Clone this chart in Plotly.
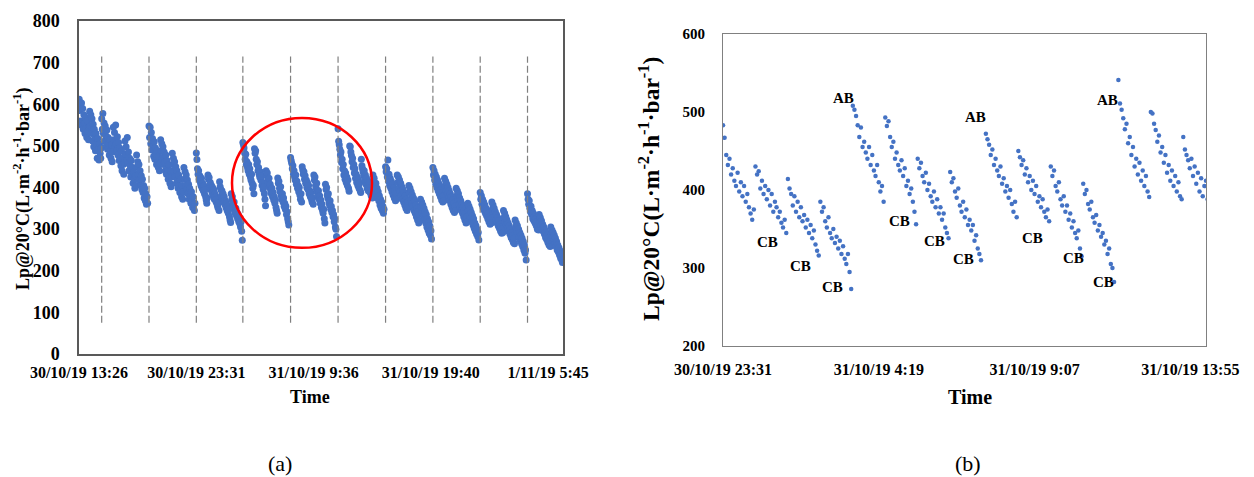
import pandas as pd
import plotly.graph_objects as go

# ---------------- data ----------------
# start time of each filtration segment (first = start of record, others = air backwash AB)
segment_starts = [
    "2019-10-30 13:27", "2019-10-30 15:23", "2019-10-30 19:27", "2019-10-30 23:31",
    "2019-10-31 03:31", "2019-10-31 07:37", "2019-10-31 11:42", "2019-10-31 15:47",
    "2019-10-31 19:51", "2019-10-31 23:55", "2019-11-01 03:59",
]
sample_minutes = 3  # logging interval

lp_seg0 = [612, 585, 598, 560, 603, 548, 590, 540, 575, 555, 530, 568, 542, 520, 560, 535, 515, 545,
           583, 548, 575, 530, 565, 512, 552, 498, 540, 520, 488, 530, 505, 470, 518, 492, 466, 505, 482, 470, 495]
lp_seg1 = [565, 540, 578, 530, 555, 512, 548, 525, 500, 538, 492, 520, 505, 478, 515, 488, 470, 502, 462, 485,
           545, 515, 532, 498, 550, 505, 488, 522, 478, 508, 465, 495, 470, 452, 488, 440, 472, 455, 432, 460,
           512, 480, 498, 465, 520, 458, 485, 440, 470, 452, 425, 465, 432, 448, 410, 438, 420, 398, 428, 405,
           478, 450, 462, 430, 455, 418, 440, 405, 428, 395, 420, 388, 405, 375, 398, 368, 385, 360, 378, 362]
lp_seg2 = [548, 520, 545, 505, 532, 490, 518, 500, 475, 510, 468, 495, 480, 455, 488, 462, 448, 475, 440, 458,
           515, 488, 505, 470, 498, 455, 485, 462, 440, 478, 432, 465, 445, 420, 455, 428, 410, 440, 402, 425,
           482, 455, 470, 438, 462, 425, 450, 410, 440, 418, 398, 430, 405, 388, 420, 395, 378, 405, 372, 390,
           448, 420, 438, 405, 430, 395, 418, 385, 408, 372, 398, 380, 362, 390, 368, 352, 378, 360, 345, 362]
lp_seg3 = [483, 467, 445, 432, 440, 420, 428, 412, 405, 422, 398, 410, 392, 405, 385, 395, 378, 370, 362, 375,
           430, 420, 424, 402, 412, 395, 405, 388, 400, 380, 395, 372, 385, 378, 365, 372, 358, 352, 362, 345,
           414, 402, 395, 380, 392, 372, 385, 365, 378, 360, 368, 352, 362, 345, 355, 338, 348, 330, 322, 316,
           385, 372, 378, 360, 352, 365, 345, 338, 350, 332, 340, 325, 335, 318, 328, 312, 305, 318, 295, 273]
lp_seg4 = [508, 503, 495, 483, 468, 480, 455, 462, 448, 440, 455, 432, 445, 425, 418, 432, 410, 398, 405, 385,
           493, 482, 488, 468, 455, 462, 440, 448, 432, 425, 438, 418, 428, 405, 412, 395, 402, 385, 372, 356,
           440, 428, 435, 418, 410, 422, 400, 408, 392, 385, 398, 378, 388, 370, 378, 362, 370, 352, 345, 338,
           423, 410, 415, 398, 390, 402, 380, 372, 385, 365, 375, 355, 362, 348, 355, 335, 342, 325, 318, 310]
lp_seg5 = [472, 465, 458, 445, 452, 432, 440, 425, 418, 430, 408, 415, 398, 405, 390, 400, 382, 372, 385, 365,
           450, 442, 432, 438, 420, 428, 410, 418, 400, 412, 395, 405, 385, 392, 378, 388, 372, 365, 375, 360,
           430, 418, 425, 405, 398, 410, 388, 380, 392, 372, 380, 362, 370, 352, 360, 345, 338, 348, 325, 315,
           408, 395, 400, 382, 375, 385, 365, 358, 368, 348, 355, 340, 345, 330, 335, 318, 325, 305, 300, 282]
lp_seg6 = [541, 511, 503, 492, 478, 485, 460, 468, 445, 455, 430, 440, 420, 435, 412, 425, 405, 418, 398, 391,
           500, 498, 485, 477, 462, 470, 448, 455, 435, 445, 422, 432, 412, 425, 405, 418, 398, 410, 392, 388,
           468, 452, 445, 438, 428, 440, 418, 430, 408, 422, 398, 415, 392, 405, 412, 388, 400, 380, 392, 375,
           430, 418, 422, 405, 395, 410, 385, 398, 375, 390, 368, 380, 358, 372, 350, 365, 345, 355, 338, 348]
lp_seg7 = [450, 438, 445, 425, 466, 415, 432, 405, 422, 398, 415, 390, 408, 382, 400, 375, 392, 368, 385, 372,
           430, 412, 425, 398, 418, 390, 410, 382, 402, 372, 395, 365, 388, 358, 380, 350, 372, 345, 365, 352,
           405, 388, 398, 372, 390, 362, 382, 355, 375, 345, 368, 338, 358, 330, 350, 322, 342, 315, 335, 320,
           372, 355, 365, 340, 358, 332, 350, 322, 342, 315, 335, 305, 325, 298, 318, 290, 308, 285, 296, 276]
lp_seg8 = [448, 430, 440, 418, 432, 408, 425, 400, 418, 392, 410, 385, 402, 378, 395, 370, 388, 365, 380, 368,
           422, 405, 415, 392, 408, 385, 400, 375, 392, 368, 385, 360, 378, 352, 370, 345, 362, 340, 355, 345,
           398, 380, 392, 368, 385, 360, 375, 352, 368, 345, 360, 338, 352, 330, 345, 322, 338, 315, 330, 318,
           362, 345, 355, 335, 348, 328, 340, 318, 332, 310, 325, 302, 315, 295, 308, 288, 300, 282, 292, 274]
lp_seg9 = [388, 372, 380, 360, 372, 352, 365, 345, 358, 338, 350, 332, 345, 325, 338, 318, 330, 312, 325, 315,
           365, 348, 358, 338, 350, 330, 342, 322, 335, 315, 328, 308, 320, 302, 312, 295, 305, 290, 300, 292,
           345, 328, 338, 318, 330, 310, 322, 302, 315, 295, 308, 288, 300, 280, 292, 275, 285, 268, 278, 265,
           322, 305, 315, 295, 308, 288, 300, 280, 292, 272, 285, 265, 278, 258, 270, 250, 262, 242, 250, 226]
lp_seg10 = [385, 372, 360, 368, 350, 342, 355, 335, 345, 325, 338, 320, 330, 315, 325, 308, 318, 300, 310, 298,
            335, 318, 328, 308, 320, 300, 312, 295, 305, 288, 298, 280, 292, 275, 285, 268, 278, 262, 272, 258,
            305, 288, 298, 280, 292, 272, 285, 265, 278, 258, 270, 250, 262, 245, 255, 238, 248, 230, 240, 225, 220]
lp_segments = [lp_seg0, lp_seg1, lp_seg2, lp_seg3, lp_seg4, lp_seg5, lp_seg6,
               lp_seg7, lp_seg8, lp_seg9, lp_seg10]

ab_times = segment_starts[1:]

left_tick_vals = ["2019-10-30 13:26", "2019-10-30 23:31", "2019-10-31 09:36",
                  "2019-10-31 19:40", "2019-11-01 05:45"]
left_tick_text = ["30/10/19 13:26", "30/10/19 23:31", "31/10/19 9:36",
                  "31/10/19 19:40", "1/11/19 5:45"]
right_tick_vals = ["2019-10-30 23:31", "2019-10-31 04:19", "2019-10-31 09:07", "2019-10-31 13:55"]
right_tick_text = ["30/10/19 23:31", "31/10/19 4:19", "31/10/19 9:07", "31/10/19 13:55"]

left_range = ["2019-10-30 13:26", "2019-11-01 07:02"]
right_range = ["2019-10-30 23:31", "2019-10-31 14:24"]

# event labels in panel (b): (text, time, Lp)
event_labels = [
    ("AB", "2019-10-31 03:13", 518), ("AB", "2019-10-31 07:18", 494), ("AB", "2019-10-31 11:22", 515),
    ("CB", "2019-10-31 00:54", 333), ("CB", "2019-10-31 01:55", 303), ("CB", "2019-10-31 02:54", 276),
    ("CB", "2019-10-31 04:58", 360), ("CB", "2019-10-31 06:02", 335), ("CB", "2019-10-31 06:56", 312),
    ("CB", "2019-10-31 09:03", 338), ("CB", "2019-10-31 10:19", 313), ("CB", "2019-10-31 11:14", 282),
]

# ---------------- build series ----------------
times, values = [], []
for start, vals in zip(segment_starts, lp_segments):
    t0 = pd.Timestamp(start)
    for i, v in enumerate(vals):
        times.append(t0 + pd.Timedelta(minutes=sample_minutes * i))
        values.append(v)

BLUE = "#4472C4"
FONT = "Liberation Serif"
ytitle = "Lp@20°C(L·m<sup>-2</sup>·h<sup>-1</sup>·bar<sup>-1</sup>)"

fig = go.Figure()
fig.add_trace(go.Scatter(x=times, y=values, mode="markers", xaxis="x", yaxis="y",
                         marker=dict(color=BLUE, size=7), showlegend=False))
fig.add_trace(go.Scatter(x=times, y=values, mode="markers", xaxis="x2", yaxis="y2",
                         marker=dict(color=BLUE, size=4.5), showlegend=False))

shapes = []
for t in ab_times:
    shapes.append(dict(type="line", xref="x", yref="y", x0=t, x1=t, y0=75, y1=715,
                       line=dict(color="#808080", width=1.2, dash="7px,3px"), layer="above"))
shapes.append(dict(type="circle", xref="x", yref="y",
                   x0="2019-10-31 02:35", x1="2019-10-31 14:37", y0=255, y1=567,
                   line=dict(color="#FF0000", width=2.5)))

annotations = []
for txt, t, v in event_labels:
    annotations.append(dict(x=t, y=v, xref="x2", yref="y2", text=f"<b>{txt}</b>", showarrow=False,
                            xanchor="center", yanchor="middle",
                            font=dict(family=FONT, size=15, color="black")))


def paper_text(x, y, text, size, angle=0):
    return dict(x=x, y=y, xref="paper", yref="paper", text=text, textangle=angle,
                xanchor="center", yanchor="middle", showarrow=False,
                font=dict(family=FONT, size=size, color="black"))


annotations += [
    paper_text(22 / 1254, 1 - 189 / 477, f"<b>{ytitle}</b>", 18, -90),
    paper_text(649 / 1254, 1 - 189 / 477, f"<b>{ytitle}</b>", 23.5, -90),
    paper_text(310 / 1254, 1 - 397 / 477, "<b>Time</b>", 18),
    paper_text(970 / 1254, 1 - 397 / 477, "<b>Time</b>", 20),
    paper_text(280 / 1254, 1 - 463 / 477, "(a)", 22),
    paper_text(968 / 1254, 1 - 463 / 477, "(b)", 22),
]

fig.update_layout(
    width=1254, height=477, margin=dict(l=0, r=0, t=0, b=0, autoexpand=False),
    paper_bgcolor="white", plot_bgcolor="white",
    xaxis=dict(domain=[79 / 1254, 563 / 1254], anchor="y", type="date", range=left_range,
               tickvals=left_tick_vals, ticktext=left_tick_text, showgrid=False, zeroline=False,
               showline=True, mirror=True, linecolor="#595959", linewidth=1.5, ticks="",
               ticklabelstandoff=3, automargin=False,
               tickfont=dict(family=FONT, size=16, color="black", weight="bold")),
    yaxis=dict(domain=[1 - 354 / 477, 1 - 21 / 477], anchor="x", range=[0, 800], dtick=100,
               showgrid=False, zeroline=False, showline=True, mirror=True, linecolor="#595959",
               linewidth=1.5, ticks="", ticklabelstandoff=14, automargin=False,
               tickfont=dict(family=FONT, size=18, color="black", weight="bold")),
    xaxis2=dict(domain=[723 / 1254, 1206 / 1254], anchor="y2", type="date", range=right_range,
                tickvals=right_tick_vals, ticktext=right_tick_text, showgrid=False, zeroline=False,
                showline=True, mirror=True, linecolor="#808080", linewidth=1.2, ticks="",
                ticklabelstandoff=9, automargin=False,
                tickfont=dict(family=FONT, size=16, color="black", weight="bold")),
    yaxis2=dict(domain=[1 - 346 / 477, 1 - 34 / 477], anchor="x2", range=[200, 600], dtick=100,
                showgrid=False, zeroline=False, showline=True, mirror=True, linecolor="#808080",
                linewidth=1.2, ticks="", ticklabelstandoff=14, automargin=False,
                tickfont=dict(family=FONT, size=15, color="black", weight="bold")),
    shapes=shapes, annotations=annotations,
)

fig.write_html("out.html", config={"displayModeBar": False},
               post_script="document.body.style.margin='0px';")
